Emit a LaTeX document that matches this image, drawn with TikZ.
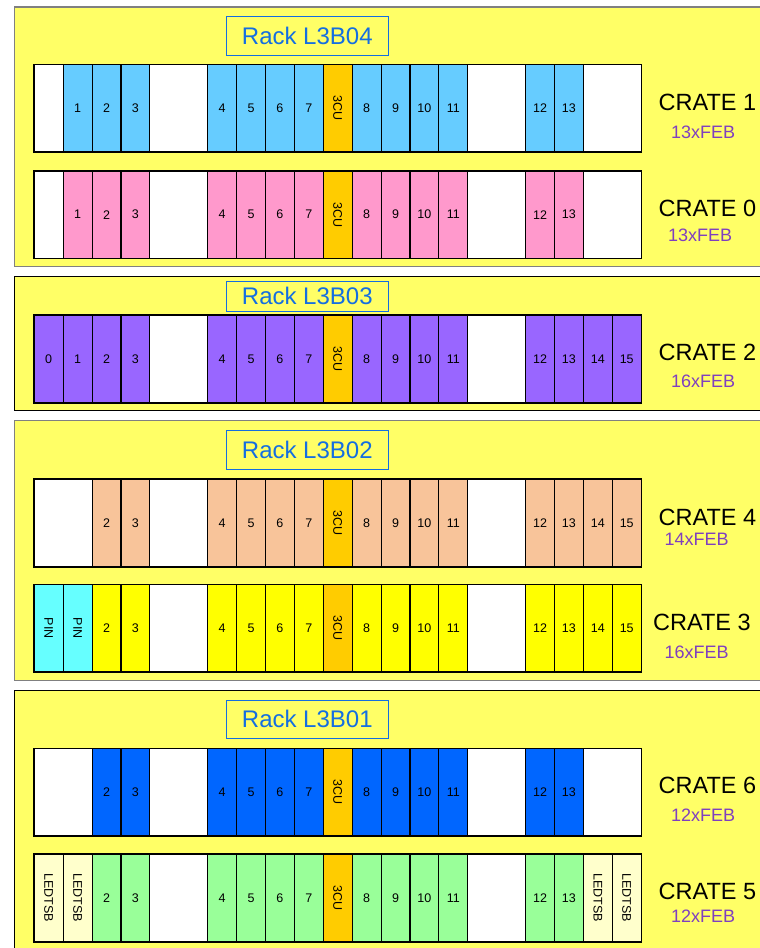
\documentclass[tikz,border=0pt]{standalone}
\usepackage{fontspec}
\setmainfont{Liberation Sans}
\definecolor{panelY}{HTML}{FFFF66}
\definecolor{febLB}{HTML}{66CCFF}
\definecolor{febPK}{HTML}{FF99CC}
\definecolor{febPU}{HTML}{9966FF}
\definecolor{febPE}{HTML}{F8C49A}
\definecolor{febYE}{HTML}{FFFF00}
\definecolor{febBL}{HTML}{0066FF}
\definecolor{febGR}{HTML}{99FF99}
\definecolor{pinC}{HTML}{66FFFF}
\definecolor{ledY}{HTML}{FFFFCC}
\definecolor{cuO}{HTML}{FFCC00}
\definecolor{titleB}{RGB}{20,110,225}
\definecolor{febTxt}{HTML}{7F3FBF}
\definecolor{panelG}{HTML}{808080}
\tikzset{
 slotbox/.style={draw=black, line width=1.1pt, minimum height=86.8pt, inner sep=0pt, anchor=north west, font=\fontsize{12.5}{14}\selectfont},
 crateline/.style={draw=black, line width=1.5pt},
 panelbox/.style={fill=panelY, line width=1.1pt},
 titlebox/.style={draw=titleB, line width=0.9pt, minimum width=162pt, inner sep=0pt, text=titleB, font=\fontsize{24}{28}\selectfont},
 cratelbl/.style={anchor=base west, inner sep=0pt, font=\fontsize{23.5}{27}\selectfont},
 feblbl/.style={anchor=base west, inner sep=0pt, text=febTxt, font=\fontsize{18}{21}\selectfont},
}
\newcommand\putslot[6]{\node[slotbox, fill=#4, minimum width=#2*28.9pt] (#6) at ({33.7+#1*28.9},#3) {#5};}
\newcommand\cratemid[3]{%
 \putslot{4}{2}{#1}{white}{}{#3wa}
 \foreach \i in {4,5,6,7}{\pgfmathtruncatemacro\u{\i+2}\putslot{\u}{1}{#1}{#2}{\i}{#3s\i}}
 \putslot{10}{1}{#1}{cuO}{\rotatebox{-90}{3CU}}{#3cu}
 \foreach \i in {8,9,10,11}{\pgfmathtruncatemacro\u{\i+3}\putslot{\u}{1}{#1}{#2}{\i}{#3s\i}}
 \putslot{15}{2}{#1}{white}{}{#3wb}
}
\begin{document}
\begin{tikzpicture}[x=1pt,y=-1pt]
\useasboundingbox (0,0) rectangle (760,948);
\path[clip] (0,0) rectangle (760,948);
\fill[white] (0,0) rectangle (760,948);
% panels
\draw[panelbox, draw=panelG] (14.3,7) rectangle (800,266.7);
\draw[panelbox, draw=black] (14.3,276.7) rectangle (800,410.7);
\draw[panelbox, draw=panelG] (14.3,420.7) rectangle (800,680.7);
\draw[panelbox, draw=black] (14.3,690.7) rectangle (800,970);
% titles
\node[titlebox, minimum height=38.7pt] (t4) at (307.3,35.7) {Rack L3B04};
\node[titlebox, minimum height=30pt] (t3) at (307.3,296) {Rack L3B03};
\node[titlebox, minimum height=38.6pt] (t2) at (307.3,450) {Rack L3B02};
\node[titlebox, minimum height=38.7pt] (t1) at (307.3,719.3) {Rack L3B01};
% CRATE 1
\putslot{0}{1}{64.3}{white}{}{c1a}
\foreach \i in {1,2,3}{\putslot{\i}{1}{64.3}{febLB}{\i}{c1s\i}}
\cratemid{64.3}{febLB}{c1}
\putslot{17}{1}{64.3}{febLB}{12}{c1s12}
\putslot{18}{1}{64.3}{febLB}{13}{c1s13}
\putslot{19}{2}{64.3}{white}{}{c1z}
\draw[crateline] (c1a.north west) rectangle (c1z.south east);
% CRATE 0
\putslot{0}{1}{170.7}{white}{}{c0a}
\foreach \i in {1,2,3}{\putslot{\i}{1}{170.7}{febPK}{\i}{c0s\i}}
\cratemid{170.7}{febPK}{c0}
\putslot{17}{1}{170.7}{febPK}{12}{c0s12}
\putslot{18}{1}{170.7}{febPK}{13}{c0s13}
\putslot{19}{2}{170.7}{white}{}{c0z}
\draw[crateline] (c0a.north west) rectangle (c0z.south east);
% CRATE 2
\putslot{0}{1}{315}{febPU}{0}{c2a}
\foreach \i in {1,2,3}{\putslot{\i}{1}{315}{febPU}{\i}{c2s\i}}
\cratemid{315}{febPU}{c2}
\putslot{17}{1}{315}{febPU}{12}{c2s12}
\putslot{18}{1}{315}{febPU}{13}{c2s13}
\putslot{19}{1}{315}{febPU}{14}{c2s14}
\putslot{20}{1}{315}{febPU}{15}{c2z}
\draw[crateline] (c2a.north west) rectangle (c2z.south east);
% CRATE 4
\putslot{0}{2}{479}{white}{}{c4a}
\foreach \i in {2,3}{\putslot{\i}{1}{479}{febPE}{\i}{c4s\i}}
\cratemid{479}{febPE}{c4}
\putslot{17}{1}{479}{febPE}{12}{c4s12}
\putslot{18}{1}{479}{febPE}{13}{c4s13}
\putslot{19}{1}{479}{febPE}{14}{c4s14}
\putslot{20}{1}{479}{febPE}{15}{c4z}
\draw[crateline] (c4a.north west) rectangle (c4z.south east);
% CRATE 3
\putslot{0}{1}{584.3}{pinC}{\rotatebox{-90}{PIN}}{c3a}
\putslot{1}{1}{584.3}{pinC}{\rotatebox{-90}{PIN}}{c3p}
\foreach \i in {2,3}{\putslot{\i}{1}{584.3}{febYE}{\i}{c3s\i}}
\cratemid{584.3}{febYE}{c3}
\putslot{17}{1}{584.3}{febYE}{12}{c3s12}
\putslot{18}{1}{584.3}{febYE}{13}{c3s13}
\putslot{19}{1}{584.3}{febYE}{14}{c3s14}
\putslot{20}{1}{584.3}{febYE}{15}{c3z}
\draw[crateline] (c3a.north west) rectangle (c3z.south east);
% CRATE 6
\putslot{0}{2}{748.3}{white}{}{c6a}
\foreach \i in {2,3}{\putslot{\i}{1}{748.3}{febBL}{\i}{c6s\i}}
\cratemid{748.3}{febBL}{c6}
\putslot{17}{1}{748.3}{febBL}{12}{c6s12}
\putslot{18}{1}{748.3}{febBL}{13}{c6s13}
\putslot{19}{2}{748.3}{white}{}{c6z}
\draw[crateline] (c6a.north west) rectangle (c6z.south east);
% CRATE 5
\putslot{0}{1}{854}{ledY}{\rotatebox{-90}{LEDTSB}}{c5a}
\putslot{1}{1}{854}{ledY}{\rotatebox{-90}{LEDTSB}}{c5l}
\foreach \i in {2,3}{\putslot{\i}{1}{854}{febGR}{\i}{c5s\i}}
\cratemid{854}{febGR}{c5}
\putslot{17}{1}{854}{febGR}{12}{c5s12}
\putslot{18}{1}{854}{febGR}{13}{c5s13}
\putslot{19}{1}{854}{ledY}{\rotatebox{-90}{LEDTSB}}{c5r}
\putslot{20}{1}{854}{ledY}{\rotatebox{-90}{LEDTSB}}{c5z}
\draw[crateline] (c5a.north west) rectangle (c5z.south east);
% crate labels
\node[cratelbl] (l1) at (658.5,110) {CRATE 1};
\node[feblbl] (f1) at (671,138) {13xFEB};
\node[cratelbl] (l0) at (658.5,216.7) {CRATE 0};
\node[feblbl] (f0) at (668,241) {13xFEB};
\node[cratelbl] (l2) at (658.5,360) {CRATE 2};
\node[feblbl] (f2) at (671,387.7) {16xFEB};
\node[cratelbl] (l4) at (658.5,525) {CRATE 4};
\node[feblbl] (f4) at (664.5,545.7) {14xFEB};
\node[cratelbl] (l3) at (653,630.7) {CRATE 3};
\node[feblbl] (f3) at (664.5,658.3) {16xFEB};
\node[cratelbl] (l6) at (658.5,793.3) {CRATE 6};
\node[feblbl] (f6) at (671,821) {12xFEB};
\node[cratelbl] (l5) at (658.5,899.3) {CRATE 5};
\node[feblbl] (f5) at (671,922.3) {12xFEB};
\end{tikzpicture}
\end{document}
